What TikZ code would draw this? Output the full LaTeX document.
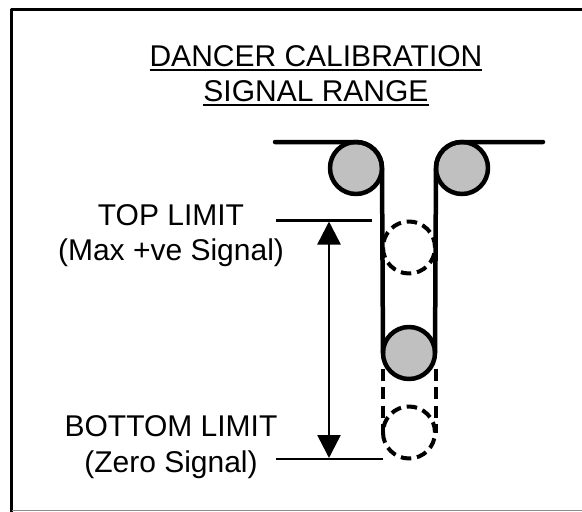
\documentclass[tikz,border=0pt]{standalone}
\usepackage{fontspec}
\setmainfont{Liberation Sans}
\usetikzlibrary{arrows.meta}
\newcommand\ulbar[1]{\leavevmode\setbox0\hbox{#1}\rlap{\vrule width\wd0 height -2.2pt depth 4.4pt}\box0}
\begin{document}
\begin{tikzpicture}[x=1pt,y=-1pt,line join=round,
  belt/.style={line width=4.5pt,line cap=round},
  thinline/.style={line width=2.5pt},
  roller/.style={circle,draw=black,fill=rollgrey,line width=4.5pt,minimum size=52pt,inner sep=0pt,outer sep=0pt},
  ghost/.style={circle,draw=black,dash pattern=on 10.5pt off 5.8pt,line width=4pt,minimum size=52pt,inner sep=0pt,outer sep=0pt},
  txt/.style={font=\fontsize{30pt}{35pt}\selectfont,align=center,text=black,inner sep=0pt,anchor=base},
  limitarrow/.style={line width=2.5pt,{Triangle[length=23pt,width=23pt]}-{Triangle[length=23pt,width=23pt]}}]
\definecolor{rollgrey}{RGB}{192,192,192}
\path[use as bounding box] (0,0) rectangle (582,512);
\draw[line width=3pt,line cap=butt] (582,9.5) -- (11.3,9.5) -- (11.3,512);
\draw[line width=1.4pt,draw=black!45] (12,510.7) -- (582,510.7);
\node[txt] (title1) at (316,66.7) {\ulbar{DANCER CALIBRATION}};
\node[txt] (title2) at (316,101.7) {\ulbar{SIGNAL RANGE}};
\node[ghost] (g1) at (409,247.5) {};
\node[ghost] (g2) at (409,432.5) {};
\node[roller] (r1) at (356,168) {};
\node[roller] (r2) at (462,168) {};
\node[roller] (r3) at (409,353) {};
\coordinate (tl) at (275,142);
\coordinate (tr) at (543,142);
\draw[belt] (tl) -- (r1.north) .. controls +(14.4,0) and +(0,-14.4) .. (r1.east) -- (r3.west);
\draw[belt] (tr) -- (r2.north) .. controls +(-14.4,0) and +(0,-14.4) .. (r2.west) -- (r3.east);
\coordinate (dl1) at (382.5,368.5);
\coordinate (dl2) at (382.5,432.5);
\coordinate (dr1) at (435.5,368.5);
\coordinate (dr2) at (435.5,432.5);
\draw[line width=4pt,dash pattern=on 12pt off 6.5pt] (dl1) -- (dl2) (dr1) -- (dr2);
\coordinate (a1) at (276,220.7);
\coordinate (a2) at (372,220.7);
\coordinate (b1) at (276,459);
\coordinate (b2) at (383,459);
\draw[thinline] (a1) -- (a2);
\draw[thinline] (b1) -- (b2);
\coordinate (u) at (329,221.5);
\coordinate (d) at (329,458);
\draw[limitarrow] (u) -- (d);
\node[txt] (top1) at (171,225) {TOP LIMIT};
\node[txt] (top2) at (171,260) {(Max +ve Signal)};
\node[txt] (bot1) at (171,436.7) {BOTTOM LIMIT};
\node[txt] (bot2) at (171,472) {(Zero Signal)};
\end{tikzpicture}
\end{document}
